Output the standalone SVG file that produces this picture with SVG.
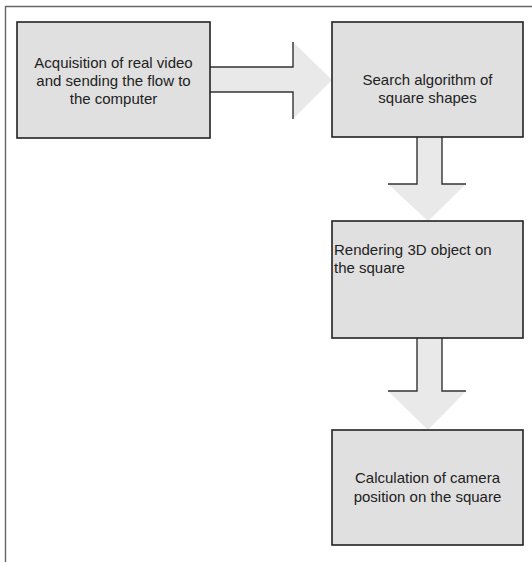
<svg xmlns="http://www.w3.org/2000/svg" width="532" height="562" viewBox="0 0 532 562">
<style>
.box{fill:#e0e0e0;stroke:#222;stroke-width:1.6}
.af{fill:#e9e9e9;stroke:none}
.as{fill:none;stroke:#333;stroke-width:1.4}
.frame{fill:none;stroke:#666;stroke-width:1.4}
text{font-family:"Liberation Sans",Arial,sans-serif;font-size:15px;fill:#222}
.c{text-anchor:middle}
</style>
<rect width="532" height="562" fill="#fff"/>
<path class="frame" d="M5.5,562 V6.5 H532"/>
<g id="connectors">
<g id="arrow1">
<polygon class="af" points="210,67 293,67 293,42 332,80 293,119 293,92 210,92"/>
<polyline class="as" points="210,67 293,67 293,42"/>
<polyline class="as" points="210,92 293,92 293,119"/>
</g>
<g id="arrow2">
<polygon class="af" points="417,137 442,137 442,184 466,184 428,221 388,184 417,184"/>
<polyline class="as" points="417,137 417,184 388,184"/>
<polyline class="as" points="442,137 442,184 466,184"/>
</g>
<g id="arrow3">
<polygon class="af" points="417,338 442,338 442,391 466,391 428,430 388,391 417,391"/>
<polyline class="as" points="417,338 417,391 388,391"/>
<polyline class="as" points="442,338 442,391 466,391"/>
</g>
</g>
<g id="node1">
<rect class="box" x="17" y="22" width="193" height="116"/>
<text class="c" x="113.5" y="68">Acquisition of real video</text>
<text class="c" x="113.5" y="86">and sending the flow to</text>
<text class="c" x="113.5" y="104">the computer</text>
</g>
<g id="node2">
<rect class="box" x="332" y="22" width="191" height="115"/>
<text class="c" x="427.5" y="85">Search algorithm of</text>
<text class="c" x="427.5" y="103">square shapes</text>
</g>
<g id="node3">
<rect class="box" x="332" y="221" width="191" height="117"/>
<text x="334" y="255">Rendering 3D object on</text>
<text x="334" y="273">the square</text>
</g>
<g id="node4">
<rect class="box" x="332" y="430" width="191" height="115"/>
<text class="c" x="427.5" y="483">Calculation of camera</text>
<text class="c" x="427.5" y="502">position on the square</text>
</g>
</svg>
